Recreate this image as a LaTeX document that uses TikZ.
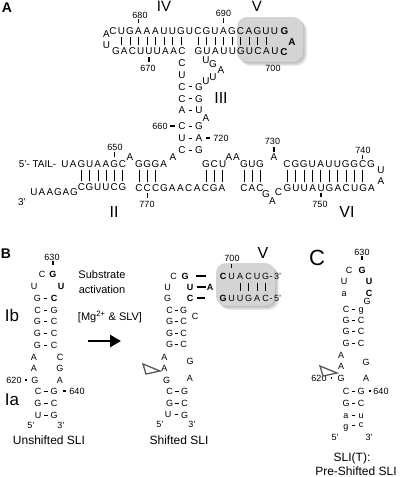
\documentclass[tikz,border=0pt]{standalone}
\usepackage{fontspec}
\setmainfont{Liberation Sans}
\usetikzlibrary{arrows.meta,calc}
\newcommand\nrow[7]{\foreach \nuc [count=\kk from 0] in {#7} {\node[#1] (#2\kk) at ({#3+\kk*(#5)},{#4+\kk*(#6)}) {\nuc};}}
\newcommand\pbar[2]{\draw[bar] (#1.south) -- (#1.south |- #2.north);}
\newcommand\pdash[2]{\draw[pd] ($(#1)!0.5!(#2)+(-1.6pt,0)$) -- ++(3.2pt,0);}
\newcommand\vtk[5]{\draw[tick,shorten <=#4pt,shorten >=#5pt] (#3 |- #1.south) -- (#3 |- #2.north);}
\newcommand\htk[4]{\draw[tick,shorten <=#3pt,shorten >=#4pt] (#1.east) -- (#1.east -| #2.west);}
\tikzset{
 nt/.style={inner sep=0pt,text height=7.1pt,text depth=0pt,font=\fontsize{9.9}{11}\selectfont},
 ntb/.style={nt,font=\fontsize{9.9}{11}\selectfont\bfseries},
 ns/.style={inner sep=0pt,text height=6.4pt,text depth=0pt,font=\fontsize{9}{10}\selectfont},
 nsb/.style={ns,font=\fontsize{9}{10}\selectfont\bfseries},
 num/.style={inner sep=0pt,text height=6.4pt,text depth=0pt,font=\fontsize{9}{10}\selectfont},
 roman/.style={inner sep=0pt,font=\fontsize{16}{17}\selectfont},
 plab/.style={inner sep=0pt,font=\fontsize{14}{16}\selectfont\bfseries},
 capt/.style={inner sep=0pt,font=\fontsize{12}{14}\selectfont},
 mid/.style={inner sep=0pt,font=\fontsize{11}{13}\selectfont},
 bar/.style={line width=0.55pt,shorten <=2.3pt,shorten >=2.3pt},
 tick/.style={line width=1.4pt},
 pd/.style={line width=0.6pt},
 bdash/.style={line width=1.5pt},
 tri/.style={draw=black!65,line width=1.3pt,fill=white,line join=miter},
 shbox/.style={black,opacity=0.07,rounded corners=10pt},
 gbox/.style={fill=black!17,rounded corners=10pt}
}
\begin{document}
\begin{tikzpicture}[x=1pt,y=-1pt]
\useasboundingbox (0,0) rectangle (400,477);
% ---------- shaded boxes ----------
\foreach \s in {1,2,3,4} \fill[shbox] (237+\s,17+\s) rectangle (303+\s,62+\s);
\fill[gbox] (237,17) rectangle (303,62);
\foreach \s in {1,2,3,4} \fill[shbox] (216+\s,263+\s) rectangle (275+\s,306+\s);
\fill[gbox] (216,263) rectangle (275,306);

% ================= PANEL A =================
\node[plab] (labA) at (7,7.5) {A};
\node[roman,font=\fontsize{15}{16}\selectfont] (rIV) at (164,6.8) {IV};
\node[roman,font=\fontsize{15}{16}\selectfont] (rV) at (257,6.8) {V};
\node[roman] (rIII) at (221,98) {III};
\node[roman] (rII) at (114,212) {II};
\node[roman] (rVI) at (347,212) {VI};

% stem IV / V
\nrow{nt}{t}{113}{31}{8.5}{0}{C,U,G,A,A,A,U,U,G,U,C,G,U,A,G,C,A,G,U,U}
\node[nt] (lA) at (106.5,34) {A};
\node[nt] (lU) at (106.5,45) {U};
\node[ntb] (hG) at (284.5,31) {G};
\node[ntb] (hA) at (292,41.5) {A};
\node[ntb] (hC) at (284,52) {C};
\nrow{nt}{bl}{116}{51}{8.25}{0}{G,A,C,U,U,U,A,A,C}
\nrow{nt}{br}{198.5}{51}{8.5}{0}{G,U,A,U,U,G,U,C,A,U}
\foreach \i in {1,...,8} {\pbar{t\i}{bl\i}}
\foreach \i [evaluate=\i as \j using int(\i-10)] in {10,...,18} {\pbar{t\i}{br\j}}

% stem III
\foreach \y/\nuc [count=\kk from 0] in {63/C,75/U,86.5/C,98.5/C,110/A,126/C,138/U,150/C} \node[nt] (sl\kk) at (182,\y) {\nuc};
\foreach \y/\nuc [count=\kk from 0] in {86.5/G,98.5/G,110/U,126/G,138/A,150/G} \node[nt] (sr\kk) at (199,\y) {\nuc};
\node[nt] (bA) at (206,117.5) {A};
\node[nt] (iU1) at (206,60) {U};
\node[nt] (iG) at (213,64) {G};
\node[nt] (iA) at (221,70) {A};
\node[nt] (iU2) at (213,76.5) {U};
\node[nt] (iU3) at (206,81) {U};
\pdash{sl2}{sr0}\pdash{sl3}{sr1}\pdash{sl4}{sr2}\pdash{sl5}{sr3}\pdash{sl6}{sr4}\pdash{sl7}{sr5}

% junction top
\node[nt] (tail) at (37.5,164) {5'- TAIL-};
\nrow{nt}{jl}{65}{164}{8.2}{0}{U,A,G,U,A,A,G,C}
\node[nt] (ja1) at (130,157) {A};
\nrow{nt}{jg}{139}{164}{8.2}{0}{G,G,G,A}
\node[nt] (ja2) at (173,157) {A};
\nrow{nt}{jm}{206}{164}{8.3}{0}{G,C,U}
\node[nt] (jaa0) at (229,157) {A};
\node[nt] (jaa1) at (236.5,157) {A};
\nrow{nt}{jn}{244}{164}{8}{0}{G,U,G}
\node[nt] (ja3) at (274,157) {A};
\nrow{nt}{jr}{287}{164}{8.4}{0}{C,G,G,U,A,U,U,G,G,C,G}
\node[nt] (lpU) at (381,170) {U};
\node[nt] (lpA) at (381,181) {A};
% junction bottom
\node[nt] (thr) at (22,202) {3'};
\nrow{nt}{ql}{34}{192}{8}{0}{U,A,A,G,A,G}
\nrow{nt}{qc}{81.4}{187}{8.2}{0}{C,G,U,U,C,G}
\nrow{nt}{qm}{139}{188}{8.3}{0}{C,C,C,G,A,A,C,A,C,G,A}
\nrow{nt}{qn}{244}{188}{8}{0}{C,A,C}
\node[nt] (qG) at (266,194) {G};
\node[nt] (qA) at (272.5,201) {A};
\node[nt] (qC) at (278.5,192) {C};
\nrow{nt}{qr}{287.5}{188}{8.4}{0}{G,U,U,A,U,G,A,C,U,G,A}
\foreach \i [evaluate=\i as \j using int(\i-2)] in {2,...,7} {\pbar{jl\i}{qc\j}}
\foreach \i in {0,1,2} {\pbar{jg\i}{qm\i}}
\foreach \i [evaluate=\i as \j using int(\i+8)] in {0,1,2} {\pbar{jm\i}{qm\j}}
\foreach \i in {0,1,2} {\pbar{jn\i}{qn\i}}
\foreach \i in {0,...,9} {\pbar{jr\i}{qr\i}}

% numbers
\node[num] (l680) at (140,15) {680};
\node[num] (l690) at (223.5,13.5) {690};
\node[num] (l670) at (148,68.5) {670};
\node[num] (l700) at (273,68) {700};
\node[num] (l660) at (160,126) {660};
\node[num] (l720) at (221,138) {720};
\node[num] (l650) at (115,147) {650};
\node[num] (l770) at (147,204) {770};
\node[num] (l730) at (272.5,141.5) {730};
\node[num] (l740) at (363,150) {740};
\node[num] (l750) at (320,204) {750};
\vtk{l680}{t3}{t3}{0.8}{4.2}
\vtk{l690}{t13}{t13}{1.3}{4.2}
\vtk{bl4}{l670}{bl4}{2.2}{3.3}
\htk{l660}{sl5}{2.5}{3.5}
\draw[tick,shorten <=3.5pt,shorten >=3.5pt] (sr4.east) -- (sr4.east -| l720.west);
\vtk{l650}{jl6}{jl6}{1.8}{3.2}
\vtk{qm1}{l770}{qm1}{1.2}{2.8}
\vtk{l730}{ja3}{ja3}{2.3}{1.2}
\vtk{l740}{jr9}{jr9}{1.3}{1.7}
\vtk{qr4}{l750}{qr4}{0.8}{3.8}

% ================= PANEL B =================
\node[plab] (labB) at (6,254) {B};
\node[roman,font=\fontsize{17}{18}\selectfont] (rIb) at (12,315) {Ib};
\node[roman,font=\fontsize{17}{18}\selectfont] (rIa) at (12,400) {Ia};
\node[num] (u630) at (52,257) {630};
\foreach \y/\x/\nuc [count=\kk from 0] in {274/42/C,286/34/U,298/37.5/G,310/37.5/C,321.5/37.5/G,333/37.5/G,345/37.5/G,357/34/A,368/34/A,380/35/G,391/38/C,403/38/G,415/38/U}
  \node[ns] (ua\kk) at (\x,\y) {\nuc};
\foreach \y/\x/\nuc [count=\kk from 0] in {274/53/\textbf{G},286/61/\textbf{U},298/54/\textbf{C},310/54/G,321.5/54/C,333/54/C,345/54/C,357/60/C,368/60/G,380/60/A,391/54/G,403/54/C,415/54/G}
  \node[ns] (ub\kk) at (\x,\y) {\nuc};
\foreach \i in {2,...,6,10,11,12} {\pdash{ua\i}{ub\i}}
\vtk{u630}{ub0}{ub0}{1}{6}
\node[num] (u620) at (14,380) {620};
\node[num] (u640) at (77,391) {640};
\htk{u620}{ua9}{3}{4}
\htk{ub10}{u640}{5}{3}
\node[ns] (u5) at (31,425) {5'};
\node[ns] (u3) at (61,425) {3'};
\node[capt] (uname) at (49,440) {Unshifted SLI};

\node[mid] (sub1) at (102,275) {Substrate};
\node[mid] (sub2) at (102,290) {activation};
\node[mid] (sub3) at (110,317) {[Mg\textsuperscript{2+} \& SLV]};
\coordinate (arS) at (88,341);
\coordinate (arE) at (121,341);
\draw[line width=2.6pt,-{Triangle[length=11pt,width=12pt]}] (arS) -- (arE);

% shifted SLI
\foreach \y/\x/\nuc [count=\kk from 0] in {276/173.5/C,287/167.5/U,298/167.5/G,310/169.5/C,321.5/169.5/G,333/169.5/G,344.5/169.5/G,357/164.5/A,368/164.5/A,380/166.5/G,391/169.5/C,403/169.5/G,414/168/U}
  \node[ns] (sa\kk) at (\x,\y) {\nuc};
\foreach \y/\x/\nuc [count=\kk from 0] in {276/185/\textbf{G},287/190/\textbf{U},298/190/\textbf{C},310/183.5/G,321.5/183.5/C,333/183.5/C,344.5/183.5/C,361/190/G,378/190/A,391/184.5/G,403/184.5/C,415/184.5/G}
  \node[ns] (sb\kk) at (\x,\y) {\nuc};
\node[ns] (sbx) at (195,316) {C};
\foreach \i in {3,...,6} {\pdash{sa\i}{sb\i}}
\pdash{sa10}{sb9}\pdash{sa11}{sb10}\pdash{sa12}{sb11}
\node[ns] (s5) at (160,424) {5'};
\node[ns] (s3) at (192,424) {3'};
\node[capt] (sname) at (179,440) {Shifted SLI};
\draw[tri] (143,364) -- (160,371) -- (146,374) -- cycle;

% SLV part
\node[roman] (rV2) at (263,253) {V};
\node[num] (v700) at (232,258) {700};
\node[nsb] (vC) at (223,276) {C};
\nrow{ns}{vt}{231.5}{276}{8.5}{0}{U,A,C,U,G}
\node[ns,anchor=west] (v3) at (269.5,276) {-\,3'};
\node[nsb] (vA) at (210,287) {A};
\node[nsb] (vG) at (223,298) {G};
\nrow{ns}{vb}{231.5}{298}{8.5}{0}{U,U,G,A,C}
\node[ns,anchor=west] (v5) at (269.5,298) {-\,5'};
\foreach \i in {1,...,4} {\draw[bar,shorten <=3.3pt,shorten >=3.3pt] (vt\i.south) -- (vt\i.south |- vb\i.north);}
\draw[bdash,shorten <=7.7pt,shorten >=13.9pt] (sb0) -- (vC);
\draw[bdash,shorten <=3.9pt,shorten >=0.9pt] (sb1) -- (vA);
\draw[bdash,shorten <=3.9pt,shorten >=14.7pt] (sb2) -- (vG);
\vtk{v700}{vt0}{vt0}{3}{4.6}

% ================= PANEL C =================
\node[inner sep=0pt,font=\fontsize{22}{24}\selectfont] (labC) at (317,258) {C};
\node[num] (c630) at (362,252) {630};
\foreach \y/\x/\nuc [count=\kk from 0] in {270/349/C,281/344/U,293/344/a,309/346/C,320/346/G,331.5/346/G,343/346/G,355/341/A,366/341/A,378/341/G,391/346/C,403/346/G,415/346/a,426/346/g}
  \node[ns] (ca\kk) at (\x,\y) {\nuc};
\foreach \y/\x/\nuc [count=\kk from 0] in {270/362/\textbf{G},281/369/\textbf{U},293/369/\textbf{C},301/367/G,309/361/g,320/361/C,331.5/361/C,343/361/C,362/366/G,378/366/A,391/361/G,403/361/C,415/361/u,424/361/c}
  \node[ns] (cb\kk) at (\x,\y) {\nuc};
\pdash{ca3}{cb4}\pdash{ca4}{cb5}\pdash{ca5}{cb6}\pdash{ca6}{cb7}
\pdash{ca10}{cb10}\pdash{ca11}{cb11}\pdash{ca12}{cb12}\pdash{ca13}{cb13}
\vtk{c630}{cb0}{cb0}{1}{6.5}
\node[num] (c620) at (319,378) {620};
\node[num] (c640) at (381,391) {640};
\htk{c620}{ca9}{4}{5}
\htk{cb10}{c640}{4}{2}
\node[ns] (c5) at (335,437) {5'};
\node[ns] (c3) at (369,437) {3'};
\node[capt] (cname1) at (352,458) {SLI(T):};
\node[capt] (cname2) at (356,471) {Pre-Shifted SLI};
\draw[tri] (320,366) -- (337,373) -- (323,376) -- cycle;
\end{tikzpicture}
\end{document}
